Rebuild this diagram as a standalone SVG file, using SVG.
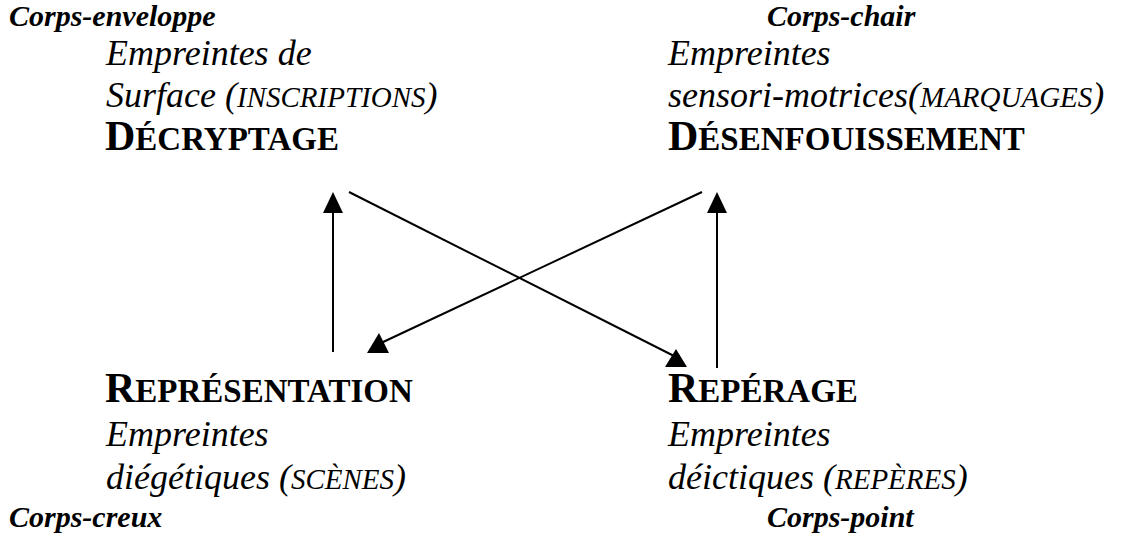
<svg xmlns="http://www.w3.org/2000/svg" width="1131" height="536" viewBox="0 0 1131 536">
<style>
text{font-family:"Liberation Serif","Times New Roman",serif;fill:#000}
.lbl{font-weight:bold;font-style:italic;font-size:30px}
.it{font-style:italic;font-size:36px}
.sc{font-size:29px}
.hd{font-weight:bold;font-size:42px}
.hs{font-size:33px}
.conn line{stroke:#000;stroke-width:2}
.conn polygon{fill:#000}
</style>
<rect width="1131" height="536" fill="#fff"/>
<g id="decryptage">
<text class="lbl" x="9" y="26">Corps-enveloppe</text>
<text class="it" x="106" y="65">Empreintes de</text>
<text class="it" x="106" y="107">Surface (<tspan class="sc">INSCRIPTIONS</tspan>)</text>
<text class="hd" x="105" y="150">D<tspan class="hs">ÉCRYPTAGE</tspan></text>
</g>
<g id="desenfouissement">
<text class="lbl" x="767" y="26">Corps-chair</text>
<text class="it" x="668" y="65">Empreintes</text>
<text class="it" x="668" y="107">sensori-motrices(<tspan class="sc">MARQUAGES</tspan>)</text>
<text class="hd" x="668" y="150">D<tspan class="hs">ÉSENFOUISSEMENT</tspan></text>
</g>
<g id="representation">
<text class="hd" x="105" y="402">R<tspan class="hs">EPRÉSENTATION</tspan></text>
<text class="it" x="106" y="446">Empreintes</text>
<text class="it" x="106" y="489">diégétiques (<tspan class="sc">SCÈNES</tspan>)</text>
<text class="lbl" x="9" y="527">Corps-creux</text>
</g>
<g id="reperage">
<text class="hd" x="668" y="402">R<tspan class="hs">EPÉRAGE</tspan></text>
<text class="it" x="668" y="446">Empreintes</text>
<text class="it" x="668" y="489">déictiques (<tspan class="sc">REPÈRES</tspan>)</text>
<text class="lbl" x="767" y="527">Corps-point</text>
</g>
<g id="connectors" class="conn">
<line x1="333" y1="352" x2="333" y2="210"/>
<polygon points="333,192 323,213 343,213"/>
<line x1="717" y1="368" x2="717" y2="210"/>
<polygon points="717,192 707,213 727,213"/>
<line x1="349" y1="192" x2="678" y2="358"/>
<polygon points="676,349 665,367 687,367"/>
<line x1="702" y1="192" x2="381" y2="343"/>
<polygon points="379,333 367,353 389,353"/>
</g>
</svg>
